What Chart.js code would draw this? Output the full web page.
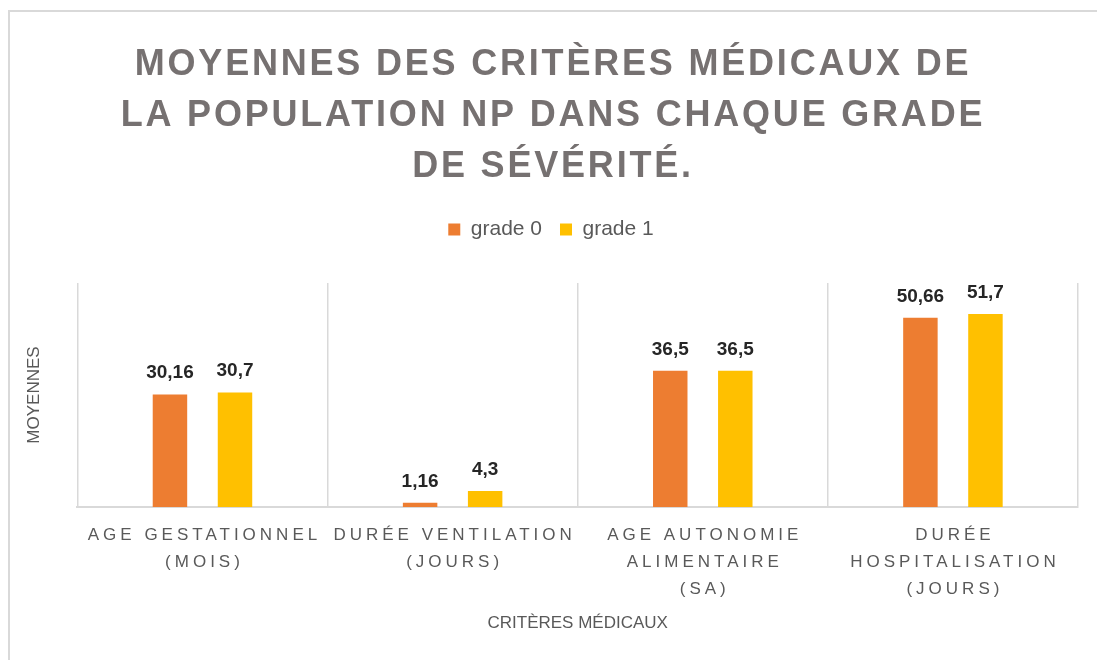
<!DOCTYPE html>
<html>
<head>
<meta charset="utf-8">
<script src="https://cdn.jsdelivr.net/npm/chart.js@4/dist/chart.umd.min.js"></script>
<style>
  html, body { margin: 0; padding: 0; background: #fff; }
</style>
</head>
<body>
<canvas id="critChart" width="1097" height="660"></canvas>
<script>
// data
const titleLines = ['MOYENNES DES CRITÈRES MÉDICAUX DE', 'LA POPULATION NP DANS CHAQUE GRADE', 'DE SÉVÉRITÉ.'];
const categories = [
    ['AGE GESTATIONNEL', '(MOIS)'],
    ['DURÉE VENTILATION', '(JOURS)'],
    ['AGE AUTONOMIE', 'ALIMENTAIRE', '(SA)'],
    ['DURÉE', 'HOSPITALISATION', '(JOURS)']
];
const seriesNames = ['grade 0', 'grade 1'];
const grade0 = [30.16, 1.16, 36.5, 50.66];
const grade1 = [30.7, 4.3, 36.5, 51.7];
const yMax = 60;

const grey = '#595959';
const font = '"Liberation Sans", Arial, sans-serif';

// frame, title, spaced x labels and value labels
const decorations = {
    id: 'decorations',
    beforeLayout(chart) {
        const legend = chart.legend;
        if (legend && !legend._padded) {
            const fit = legend.fit;
            legend.fit = function() {
                fit.call(this);
                this.height += 33;
            };
            legend._padded = true;
        }
    },
    beforeDraw(chart) {
        const ctx = chart.ctx;
        ctx.save();
        ctx.fillStyle = '#fff';
        ctx.fillRect(0, 0, chart.width, chart.height);
        ctx.strokeStyle = '#d9d9d9';
        ctx.lineWidth = 2;
        ctx.strokeRect(9, 11, chart.width + 20, chart.height + 20);
        ctx.restore();
    },
    afterDatasetsDraw(chart) {
        const ctx = chart.ctx;
        ctx.save();
        ctx.font = 'bold 19px ' + font;
        ctx.fillStyle = '#262626';
        ctx.textAlign = 'center';
        ctx.textBaseline = 'alphabetic';
        chart.data.datasets.forEach((ds, i) => {
            chart.getDatasetMeta(i).data.forEach((bar, j) => {
                ctx.fillText(String(ds.data[j]).replace('.', ','), bar.x, bar.y - 16);
            });
        });
        ctx.restore();
    },
    afterDraw(chart) {
        const ctx = chart.ctx;
        ctx.save();
        ctx.textAlign = 'center';
        ctx.textBaseline = 'alphabetic';
        ctx.fillStyle = '#767171';
        ctx.font = 'bold 36px ' + font;
        ctx.letterSpacing = '2.8px';
        titleLines.forEach((t, i) => ctx.fillText(t, 553, 75 + i * 51));

        const xs = chart.scales.x;
        ctx.fillStyle = grey;
        ctx.font = '17px ' + font;
        ctx.letterSpacing = '4px';
        ctx.textBaseline = 'middle';
        categories.forEach((lines, i) => {
            const x = xs.getPixelForTick(i) + 2;
            lines.forEach((t, k) => ctx.fillText(t, x, xs.top + 28 + k * 27));
        });
        ctx.restore();
    }
};

const ctx = document.getElementById('critChart').getContext('2d');
const critChart = new Chart(ctx, {
    type: 'bar',
    data: {
        labels: categories,
        datasets: [{
            label: seriesNames[0],
            data: grade0,
            backgroundColor: '#ED7D31',
            categoryPercentage: 0.52,
            barPercentage: 0.53
        }, {
            label: seriesNames[1],
            data: grade1,
            backgroundColor: '#FFC000',
            categoryPercentage: 0.52,
            barPercentage: 0.53
        }]
    },
    options: {
        responsive: false,
        animation: false,
        layout: { padding: { top: 201, left: 24, right: 19, bottom: 26 } },
        scales: {
            x: {
                grid: { color: '#d9d9d9', lineWidth: 1.5, offset: true, drawTicks: false },
                border: { color: '#d9d9d9', width: 2 },
                ticks: {
                    color: 'rgba(0,0,0,0)',
                    font: { family: font, size: 17, lineHeight: 1.6 },
                    padding: 12,
                    maxRotation: 0,
                    autoSkip: false
                },
                title: {
                    display: true,
                    text: 'CRITÈRES MÉDICAUX',
                    color: grey,
                    font: { family: font, size: 17 },
                    padding: { top: 1, bottom: 0 }
                }
            },
            y: {
                min: 0,
                max: yMax,
                grid: { display: false },
                border: { display: false },
                ticks: { display: false },
                title: {
                    display: true,
                    text: 'MOYENNES',
                    color: grey,
                    font: { family: font, size: 17 },
                    padding: { top: 0, bottom: 25 }
                }
            }
        },
        plugins: {
            title: { display: false },
            tooltip: { enabled: false },
            legend: {
                display: true,
                position: 'top',
                labels: {
                    color: grey,
                    font: { family: font, size: 21 },
                    boxWidth: 12,
                    boxHeight: 12,
                    padding: 18
                }
            }
        }
    },
    plugins: [decorations]
});
</script>
</body>
</html>
